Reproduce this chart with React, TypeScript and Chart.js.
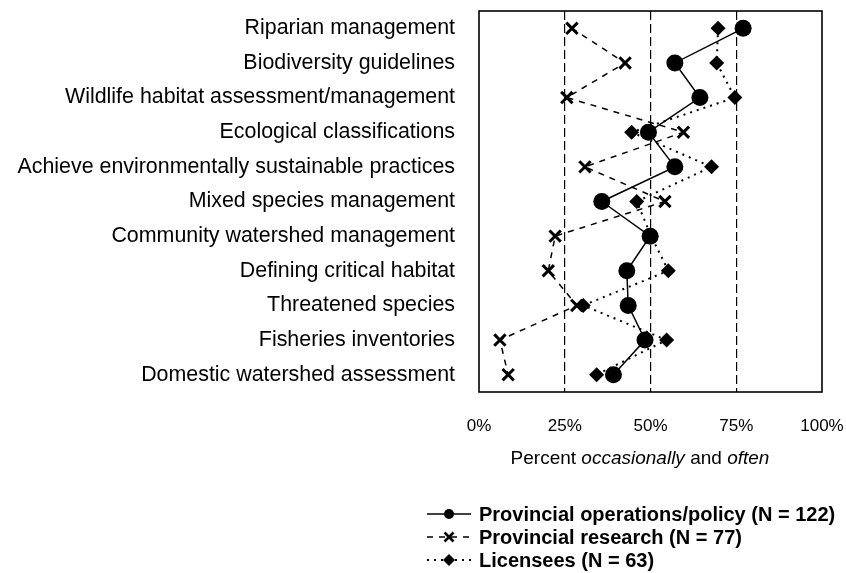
import React, { useEffect, useRef } from 'react';
import { Chart, registerables } from 'chart.js';

Chart.register(...registerables);

const categories = [
  'Riparian management',
  'Biodiversity guidelines',
  'Wildlife habitat assessment/management',
  'Ecological classifications',
  'Achieve environmentally sustainable practices',
  'Mixed species management',
  'Community watershed management',
  'Defining critical habitat',
  'Threatened species',
  'Fisheries inventories',
  'Domestic watershed assessment',
];

const opsValues = [77.0, 57.1, 64.4, 49.4, 57.1, 35.8, 49.9, 43.1, 43.5, 48.4, 39.2];
const researchValues = [27.1, 42.6, 25.6, 59.6, 30.9, 54.2, 22.2, 20.2, 28.5, 6.1, 8.5];
const licenseeValues = [69.7, 69.3, 74.6, 44.5, 67.8, 46.0, 50.2, 55.2, 30.4, 54.7, 34.3];

const seriesLabels = [
  'Provincial operations/policy (N = 122)',
  'Provincial research (N = 77)',
  'Licensees (N = 63)',
];

const tickValues = [0, 25, 50, 75, 100];
const dashedGridValues = [25, 50, 75];

const axisTitleParts: [string, boolean][] = [
  ['Percent ', false],
  ['occasionally', true],
  [' and ', false],
  ['often', true],
];

const FONT = '"Liberation Sans", Arial, Helvetica, sans-serif';

function drawMarker(ctx: CanvasRenderingContext2D, style: string, x: number, y: number, r: number) {
  ctx.save();
  ctx.fillStyle = '#000';
  ctx.strokeStyle = '#000';
  ctx.setLineDash([]);
  if (style === 'circle') {
    ctx.beginPath();
    ctx.arc(x, y, r, 0, Math.PI * 2);
    ctx.fill();
  } else if (style === 'crossRot') {
    ctx.lineWidth = 2.5;
    ctx.beginPath();
    ctx.moveTo(x - r * 0.75, y - r * 0.75);
    ctx.lineTo(x + r * 0.75, y + r * 0.75);
    ctx.moveTo(x + r * 0.75, y - r * 0.75);
    ctx.lineTo(x - r * 0.75, y + r * 0.75);
    ctx.stroke();
  } else if (style === 'rectRot') {
    ctx.beginPath();
    ctx.moveTo(x, y - r);
    ctx.lineTo(x + r, y);
    ctx.lineTo(x, y + r);
    ctx.lineTo(x - r, y);
    ctx.closePath();
    ctx.fill();
  }
  ctx.restore();
}

const boxPlugin = {
  id: 'boxPlugin',
  beforeDatasetsDraw(chart: any) {
    const { ctx, chartArea } = chart;
    ctx.save();
    ctx.strokeStyle = '#000';
    ctx.lineWidth = 1.6;
    ctx.setLineDash([]);
    ctx.strokeRect(chartArea.left, chartArea.top, chartArea.right - chartArea.left, chartArea.bottom - chartArea.top);
    ctx.restore();
  },
};

const titlePlugin = {
  id: 'titlePlugin',
  afterDraw(chart: any) {
    const { ctx } = chart;
    const size = 19;
    ctx.save();
    ctx.fillStyle = '#000';
    ctx.textBaseline = 'middle';
    let total = 0;
    for (const [t, it] of axisTitleParts) {
      ctx.font = `${it ? 'italic ' : ''}${size}px ${FONT}`;
      total += ctx.measureText(t).width;
    }
    let x = 640 - total / 2;
    const y = 459;
    for (const [t, it] of axisTitleParts) {
      ctx.font = `${it ? 'italic ' : ''}${size}px ${FONT}`;
      ctx.fillText(t, x, y);
      x += ctx.measureText(t).width;
    }
    ctx.restore();
  },
};

const legendPlugin = {
  id: 'legendPlugin',
  afterDraw(chart: any) {
    const { ctx } = chart;
    const datasets = chart.data.datasets;
    ctx.save();
    datasets.forEach((ds: any, i: number) => {
      const y = 514 + i * 23;
      const x0 = 427;
      const x1 = 471;
      ctx.strokeStyle = '#000';
      ctx.lineWidth = ds.borderWidth;
      ctx.setLineDash(ds.borderDash || []);
      ctx.beginPath();
      ctx.moveTo(x0, y);
      ctx.lineTo(x1, y);
      ctx.stroke();
      const ms = ds.pointStyle === 'circle' ? 5 : 6;
      drawMarker(ctx, ds.pointStyle, (x0 + x1) / 2, y, ms);
      ctx.setLineDash([]);
      ctx.fillStyle = '#000';
      ctx.font = `bold 20px ${FONT}`;
      ctx.textBaseline = 'middle';
      ctx.textAlign = 'left';
      ctx.fillText(ds.label, 479, y + 1);
    });
    ctx.restore();
  },
};

export default function App() {
  const canvasRef = useRef<HTMLCanvasElement | null>(null);

  useEffect(() => {
    const canvas = canvasRef.current;
    if (!canvas) return;
    const chart = new Chart(canvas, {
      type: 'line',
      data: {
        labels: categories,
        datasets: [
          {
            label: seriesLabels[0],
            data: opsValues,
            borderColor: '#000',
            backgroundColor: '#000',
            borderWidth: 1.5,
            borderDash: [],
            pointStyle: 'circle',
            pointRadius: 8.5,
            pointBorderWidth: 0,
            pointBackgroundColor: '#000',
            fill: false,
            tension: 0,
          },
          {
            label: seriesLabels[1],
            data: researchValues,
            borderColor: '#000',
            backgroundColor: '#000',
            borderWidth: 1.5,
            borderDash: [6, 6],
            pointStyle: 'crossRot',
            pointRadius: 8,
            pointBorderWidth: 3,
            pointBorderColor: '#000',
            fill: false,
            tension: 0,
          },
          {
            label: seriesLabels[2],
            data: licenseeValues,
            borderColor: '#000',
            backgroundColor: '#000',
            borderWidth: 2,
            borderDash: [2, 5],
            pointStyle: 'rectRot',
            pointRadius: 7.5,
            pointBorderWidth: 0,
            pointBackgroundColor: '#000',
            fill: false,
            tension: 0,
          },
        ],
      },
      options: {
        animation: false,
        responsive: false,
        indexAxis: 'y',
        layout: { padding: { left: 0, right: 24, top: 10, bottom: 0 } },
        plugins: {
          legend: { display: false },
          tooltip: { enabled: false },
          title: { display: false },
        },
        scales: {
          x: {
            type: 'linear',
            min: 0,
            max: 100,
            afterBuildTicks(scale: any) {
              scale.ticks = tickValues.map((v) => ({ value: v }));
            },
            afterFit(scale: any) {
              scale.height = 181;
              scale.paddingLeft = 0;
              scale.paddingRight = 0;
            },
            ticks: {
              padding: 24,
              color: '#000',
              font: { family: FONT, size: 17 },
              callback: (v: any) => `${v}%`,
              maxRotation: 0,
            },
            grid: {
              drawTicks: false,
              lineWidth: 1.2,
              color: (c: any) =>
                c.tick && dashedGridValues.includes(c.tick.value) ? '#000' : 'rgba(0,0,0,0)',
            },
            border: { display: false, dash: [9, 4] },
          },
          y: {
            type: 'category',
            offset: true,
            afterFit(scale: any) {
              scale.width = 479;
              scale.paddingTop = 0;
              scale.paddingBottom = 0;
            },
            ticks: {
              padding: 24,
              color: '#000',
              font: { family: FONT, size: 21.4 },
              autoSkip: false,
            },
            grid: { display: false, drawTicks: false },
            border: { display: false },
          },
        },
      } as any,
      plugins: [boxPlugin, titlePlugin, legendPlugin],
    });
    return () => chart.destroy();
  }, []);

  return (
    <div style={{ position: 'fixed', left: 0, top: 0, width: 846, height: 573, background: '#fff' }}>
      <canvas ref={canvasRef} width={846} height={573} style={{ display: 'block' }} />
    </div>
  );
}
